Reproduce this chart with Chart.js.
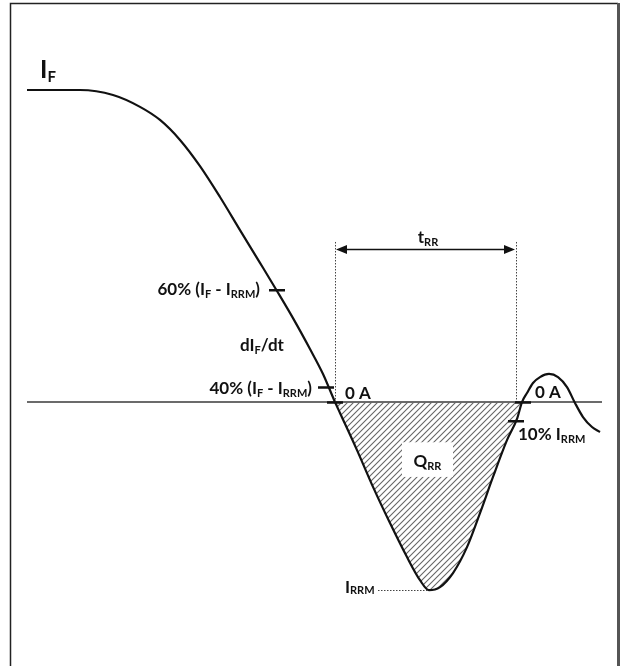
<!DOCTYPE html>
<html>
<head>
<meta charset="utf-8">
<script src="https://cdn.jsdelivr.net/npm/chart.js@4/dist/chart.umd.min.js"></script>
<style>
  html, body { margin: 0; padding: 0; background: #fff; }
  #wrap { width: 621px; height: 666px; }
</style>
</head>
<body>
<div id="wrap"><canvas id="recovery" width="621" height="666"></canvas></div>
<script>
// Diode reverse recovery current, time in ns, current in A
const timeNs = [-30.8, -25.5, -22.2, -19.5, -17.5, -15.5, -13.5, -11.5, -9.5, -7.5, -5.8, -4.2, -2.5, -1.2, 0, 0.5, 2.2, 3.8, 5.5, 7.2, 8.5, 9.4, 10.5, 11.8, 13.2, 14.5, 15.8, 17.2, 18.2, 18.7, 19.2, 19.8, 20.5, 21.4, 22.3, 23.2, 24.0, 24.8, 25.7, 26.5];
const currentA = [10.0, 10.0, 9.84, 9.46, 9.04, 8.40, 7.56, 6.57, 5.51, 4.46, 3.56, 2.69, 1.70, 0.90, 0, -0.35, -1.54, -2.72, -3.88, -4.97, -5.71, -6.03, -5.93, -5.48, -4.65, -3.56, -2.40, -1.22, -0.54, 0, 0.29, 0.61, 0.80, 0.90, 0.80, 0.48, -0.03, -0.48, -0.80, -0.96];

// Marked levels and times
const iF = 10.0;
const iRRM = -6.03;
const tIRRM = 9.4;
const level60 = { t: -5.8, i: 3.6 };
const level40 = { t: -0.9, i: 0.48 };
const tZero1 = 0;
const tZero2 = 18.8;
const t10 = 18.1;
const trrStart = 0;
const trrEnd = 18.1;

// Window of the drawing
const timeMin = -33.5;
const timeMax = 28.6;
const currentMin = -8.46;
const currentMax = 12.885;

const points = timeNs.map((t, k) => ({ x: t, y: currentA[k] }));
// the shaded Q_RR lobe, with one neighbour each side so the curve shape matches
const lobe = points.filter(p => p.x >= -1.2 && p.x <= 19.2);

// hatch pattern for the recovered charge
const hatch = (() => {
  const c = document.createElement('canvas');
  c.width = 6;
  c.height = 6;
  const g = c.getContext('2d');
  g.strokeStyle = '#666';
  g.lineWidth = 1.1;
  g.beginPath();
  g.moveTo(-1, 7); g.lineTo(7, -1);
  g.moveTo(-1, 1); g.lineTo(1, -1);
  g.moveTo(5, 7); g.lineTo(7, 5);
  g.stroke();
  return g.createPattern(c, 'repeat');
})();

const FONT = 'Lato, "Open Sans", sans-serif';

// parts: strings are normal text, one-element arrays are subscripts
function richText(ctx, parts, x, y, align, size, subSize, drop) {
  const font = (s) => `bold ${s}px ${FONT}`;
  let total = 0;
  parts.forEach(p => {
    ctx.font = font(Array.isArray(p) ? subSize : size);
    total += ctx.measureText(Array.isArray(p) ? p[0] : p).width;
  });
  let cx = align === 'right' ? x - total : align === 'center' ? x - total / 2 : x;
  ctx.textAlign = 'left';
  ctx.textBaseline = 'alphabetic';
  parts.forEach(p => {
    const sub = Array.isArray(p);
    const s = sub ? p[0] : p;
    ctx.font = font(sub ? subSize : size);
    ctx.fillText(s, cx, y + (sub ? drop : 0));
    cx += ctx.measureText(s).width;
  });
}

const overlay = {
  id: 'overlay',
  beforeDatasetsDraw(chart) {
    const { ctx, scales: { x, y } } = chart;
    ctx.save();
    // zero current axis
    ctx.strokeStyle = '#3a3a3a';
    ctx.lineWidth = 1.5;
    ctx.beginPath();
    ctx.moveTo(x.getPixelForValue(timeNs[0]), y.getPixelForValue(0));
    ctx.lineTo(x.getPixelForValue(26.7), y.getPixelForValue(0));
    ctx.stroke();
    ctx.restore();
  },
  afterDatasetsDraw(chart) {
    const { ctx, scales: { x, y } } = chart;
    const px = (t) => x.getPixelForValue(t);
    const py = (i) => y.getPixelForValue(i);
    ctx.save();

    // dotted t_RR guides
    ctx.strokeStyle = '#444';
    ctx.lineWidth = 1;
    ctx.setLineDash([1.5, 1.5]);
    ctx.beginPath();
    [trrStart, trrEnd].forEach(t => {
      ctx.moveTo(Math.round(px(t)) + 0.5, py(5.13));
      ctx.lineTo(Math.round(px(t)) + 0.5, py(0));
    });
    // I_RRM leader
    ctx.moveTo(px(4.3), Math.round(py(iRRM)) + 0.5);
    ctx.lineTo(px(tIRRM), Math.round(py(iRRM)) + 0.5);
    ctx.stroke();
    ctx.setLineDash([]);

    // t_RR arrow
    const ay = Math.round(py(4.9)) + 0.5;
    const a0 = px(trrStart) + 1;
    const a1 = px(trrEnd) - 1;
    ctx.strokeStyle = '#111';
    ctx.fillStyle = '#111';
    ctx.lineWidth = 1.5;
    ctx.beginPath();
    ctx.moveTo(a0 + 6, ay);
    ctx.lineTo(a1 - 6, ay);
    ctx.stroke();
    ctx.beginPath();
    ctx.moveTo(a0, ay); ctx.lineTo(a0 + 11, ay - 4.5); ctx.lineTo(a0 + 11, ay + 4.5); ctx.closePath();
    ctx.moveTo(a1, ay); ctx.lineTo(a1 - 11, ay - 4.5); ctx.lineTo(a1 - 11, ay + 4.5); ctx.closePath();
    ctx.fill();

    // short level ticks
    ctx.lineWidth = 2.5;
    ctx.strokeStyle = '#111';
    ctx.beginPath();
    [[level60.t, level60.i], [level40.t, level40.i], [tZero1, 0], [tZero2, 0], [t10, 0.1 * iRRM]].forEach(([t, i]) => {
      ctx.moveTo(px(t) - 8, py(i) + 0.5);
      ctx.lineTo(px(t) + 8, py(i) + 0.5);
    });
    ctx.stroke();

    // Q_RR label box
    ctx.fillStyle = '#fff';
    ctx.fillRect(px(6.7), py(-1.29), px(11.8) - px(6.7), py(-2.4) - py(-1.29));

    // labels
    ctx.fillStyle = '#111';
    richText(ctx, ['I', ['F']], px(-29.5), py(10.38), 'left', 25, 15, 4);
    richText(ctx, ['60% (I', ['F'], ' - I', ['RRM'], ')'], px(-7.5), py(3.43), 'right', 17, 11, 3);
    richText(ctx, ['dI', ['F'], '/dt'], px(-9.5), py(1.63), 'left', 17, 11, 3);
    richText(ctx, ['40% (I', ['F'], ' - I', ['RRM'], ')'], px(-2.3), py(0.26), 'right', 17, 11, 3);
    richText(ctx, ['0 A'], px(1.0), py(0.1), 'left', 17, 11, 3);
    richText(ctx, ['t', ['RR']], px(9.3), py(5.1), 'center', 17, 11, 3);
    richText(ctx, ['Q', ['RR']], px(9.25), py(-2.08), 'center', 17, 11, 3);
    richText(ctx, ['I', ['RRM']], px(1.0), py(-6.12), 'left', 17, 11, 1);
    richText(ctx, ['0 A'], px(20.0), py(0.13), 'left', 17, 11, 3);
    richText(ctx, ['10% I', ['RRM']], px(18.3), py(-1.22), 'left', 17, 11, 3);

    ctx.restore();
  },
  afterDraw(chart) {
    // picture frame
    const { ctx } = chart;
    ctx.save();
    ctx.strokeStyle = '#222';
    ctx.lineWidth = 1.5;
    ctx.beginPath();
    ctx.moveTo(10.5, 666);
    ctx.lineTo(10.5, 3.5);
    ctx.lineTo(618, 3.5);
    ctx.stroke();
    ctx.strokeStyle = '#555';
    ctx.lineWidth = 3;
    ctx.beginPath();
    ctx.moveTo(618.5, 3);
    ctx.lineTo(618.5, 666);
    ctx.stroke();
    ctx.restore();
  },
};

new Chart(document.getElementById('recovery'), {
  type: 'line',
  data: {
    datasets: [
      // recovery current
      {
        label: 'i(t)',
        data: points,
        borderColor: '#111',
        borderWidth: 2.2,
        fill: false,
        cubicInterpolationMode: 'monotone',
        pointRadius: 0,
      },
      // Q_RR shading
      {
        label: 'Q_RR',
        data: lobe,
        borderWidth: 0,
        borderColor: 'rgba(0,0,0,0)',
        fill: { target: 'origin', above: 'rgba(0,0,0,0)', below: hatch },
        cubicInterpolationMode: 'monotone',
        pointRadius: 0,
      },
    ],
  },
  options: {
    responsive: false,
    animation: false,
    layout: { padding: 0 },
    scales: {
      x: { type: 'linear', min: timeMin, max: timeMax, display: false },
      y: { type: 'linear', min: currentMin, max: currentMax, display: false },
    },
    plugins: {
      legend: { display: false },
      tooltip: { enabled: false },
    },
  },
  plugins: [overlay],
});
</script>
</body>
</html>
